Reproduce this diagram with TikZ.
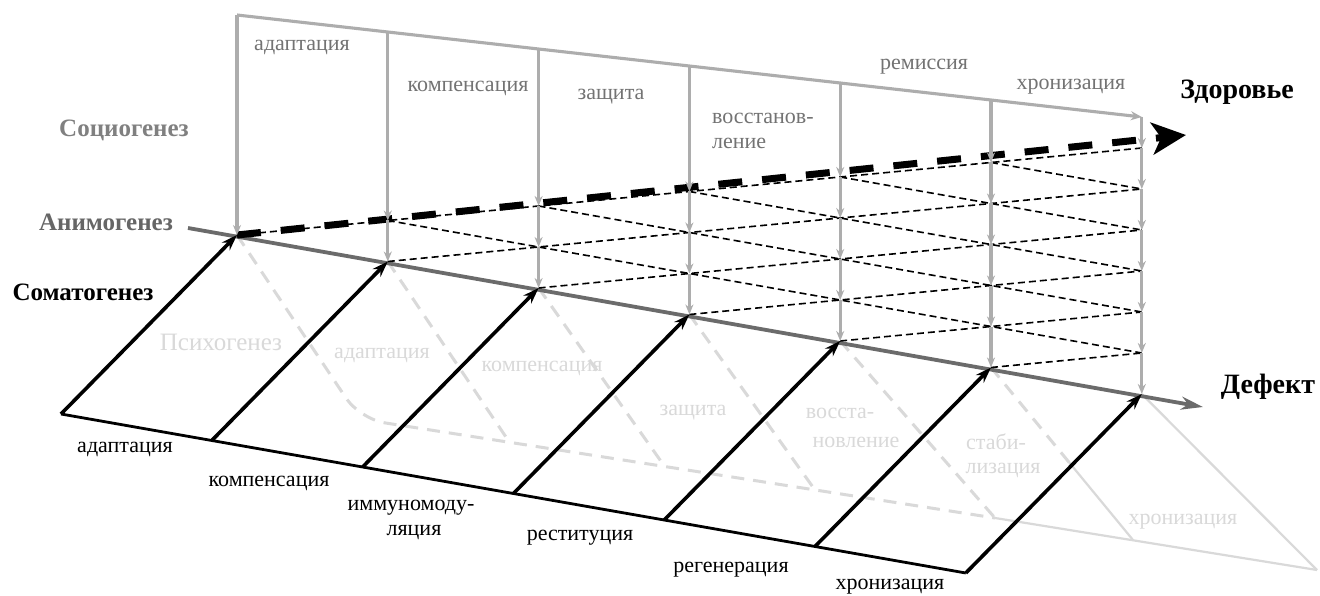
\documentclass[tikz,border=0pt]{standalone}
\usepackage{fontspec}
\setmainfont{Liberation Serif}
\usetikzlibrary{arrows.meta,calc}
\definecolor{vgray}{gray}{0.68}
\definecolor{mgray}{gray}{0.42}
\definecolor{tgray}{gray}{0.45}
\definecolor{sgray}{gray}{0.50}
\definecolor{agray}{gray}{0.40}
\definecolor{fline}{gray}{0.85}
\definecolor{ftext}{gray}{0.85}
\begin{document}
\begin{tikzpicture}[x=1pt,y=-1pt,
  vertarrow/.style={draw=vgray,line width=3.1pt,-{Stealth[length=10pt,width=8pt]}},
  topline/.style={draw=vgray,line width=3.1pt,-{Stealth[length=11pt,width=9pt]}},
  mainline/.style={draw=mgray,line width=3.8pt,-{Stealth[length=22pt,width=13pt]}},
  thindash/.style={draw=black,line width=1.6pt,dash pattern=on 7pt off 4pt},
  thickdash/.style={draw=black,line width=7pt,dash pattern=on 24pt off 20pt,-{Stealth[length=34pt,width=32pt,inset=9pt]}},
  somarrow/.style={draw=black,line width=3.6pt,-{Stealth[length=16pt,width=11pt]}},
  somline/.style={draw=black,line width=2.8pt},
  fdash/.style={draw=fline,line width=3pt,dash pattern=on 13pt off 9pt},
  fsolid/.style={draw=fline,line width=2.2pt},
  toplbl/.style={font=\fontsize{22}{24}\selectfont,text=tgray,inner sep=0pt},
  botlbl/.style={font=\fontsize{22}{24}\selectfont,text=black,inner sep=0pt},
  faintlbl/.style={font=\fontsize{22}{24}\selectfont,text=ftext,inner sep=0pt},
  biglbl/.style={font=\bfseries\fontsize{25}{27}\selectfont,inner sep=0pt},
  endlbl/.style={font=\bfseries\fontsize{28}{30}\selectfont,text=black,inner sep=0pt},
]
\useasboundingbox (0,0) rectangle (1320,596);
\fill[white] (0,0) rectangle (1320,596);

% ---------- coordinates ----------
\foreach \i in {0,...,6}{
  \foreach \k in {0,...,\i}{
    \coordinate (N-\i-\k) at ({237+150.8*\i},{235-14.5*\i+41*\k});
  }
  \coordinate (T\i) at ({237+150.8*\i},{15+17*\i});
  \coordinate (Q\i) at ({61+150.8*\i},{414+26.5*\i});
}
\coordinate (R0) at (360,419);
\coordinate (R1) at (510,443);
\coordinate (R2) at (665,467);
\coordinate (R3) at (815,490);
\coordinate (R4) at (995,518);
\coordinate (R5) at (1133,540);
\coordinate (R6) at (1317,570);
\coordinate (M5) at ($(N-5-5)!0.55!(R5)$);
\coordinate (A0) at (188,228);
\coordinate (A1) at (1203,407);
\coordinate (Z) at (1186,135);

% ---------- faint psychogenesis plane ----------
\draw[fdash,rounded corners=25pt] (N-0-0) -- (R0) -- (R4);
\draw[fsolid] (R4) -- (R6);
\foreach \i in {1,...,4}{\draw[fdash] (N-\i-\i) -- (R\i);}
\draw[fdash] (N-5-5) -- (M5);
\draw[fsolid] (M5) -- (R5);
\draw[fsolid] (N-6-6) -- (R6);

\node[font=\fontsize{25}{27}\selectfont,inner sep=0pt,text=ftext] (psy) at (221,342) {Психогенез};
\node[faintlbl] (pf1) at (382,355) {адаптация};
\node[faintlbl] (pf2) at (542,368) {компенсация};
\node[faintlbl] (pf3) at (693,413) {защита};
\node[faintlbl] (pf4) at (840,413) {восста-};
\node[faintlbl] (pf4b) at (856,442) {новление};
\node[faintlbl] (pf5) at (996,442) {стаби-};
\node[faintlbl] (pf5b) at (1003,470) {лизация};
\node[faintlbl] (pf6) at (1183,522) {хронизация};

% ---------- main gray line ----------
\draw[mainline] (A0) -- (A1);

% ---------- somatogenesis plane ----------
\draw[somline] (Q0) -- (Q6);
\foreach \i in {0,...,6}{\draw[somarrow] (Q\i) -- (N-\i-\i);}

% ---------- dashed network ----------
\draw[thindash] (N-0-0) -- (N-6-0);
\foreach \i in {1,...,5}{
  \pgfmathtruncatemacro{\j}{6-\i}
  \draw[thindash] (N-\i-\i) -- (N-6-\i);
  \draw[thindash] (N-\i-0) -- (N-6-\j);
}
\draw[thickdash] (N-0-0) -- (Z);

% ---------- gray verticals ----------
\draw[topline] (T0) -- (T6);
\draw[vertarrow] (T0) -- (N-0-0);
\foreach \i in {1,...,6}{
  \draw[vertarrow] (T\i) -- (N-\i-0);
  \pgfmathtruncatemacro{\im}{\i-1}
  \foreach \k in {0,...,\im}{
    \pgfmathtruncatemacro{\kk}{\k+1}
    \draw[vertarrow] (N-\i-\k) -- (N-\i-\kk);
  }
}

% ---------- labels ----------
\node[toplbl] (u1) at (302,47) {адаптация};
\node[toplbl] (u2) at (468,88) {компенсация};
\node[toplbl] (u3) at (611,97) {защита};
\node[toplbl,anchor=west] (u4) at (712,118) {восстанов-};
\node[toplbl,anchor=west] (u4b) at (712,143) {ление};
\node[toplbl] (u5) at (924,67) {ремиссия};
\node[toplbl] (u6) at (1071,87) {хронизация};

\node[endlbl] (zd) at (1237,92) {Здоровье};
\node[endlbl] (df) at (1268,387) {Дефект};

\node[biglbl,text=sgray] (soc) at (124,130) {Социогенез};
\node[biglbl,text=agray] (ani) at (106,222) {Анимогенез};
\node[biglbl,text=black] (som) at (83,292) {Соматогенез};

\node[botlbl] (b1) at (125,449) {адаптация};
\node[botlbl] (b2) at (269,483) {компенсация};
\node[botlbl] (b3) at (411,508) {иммуномоду-};
\node[botlbl] (b3b) at (414,533) {ляция};
\node[botlbl] (b4) at (580,538) {реституция};
\node[botlbl] (b5) at (731,570) {регенерация};
\node[botlbl] (b6) at (890,587) {хронизация};
\end{tikzpicture}
\end{document}
